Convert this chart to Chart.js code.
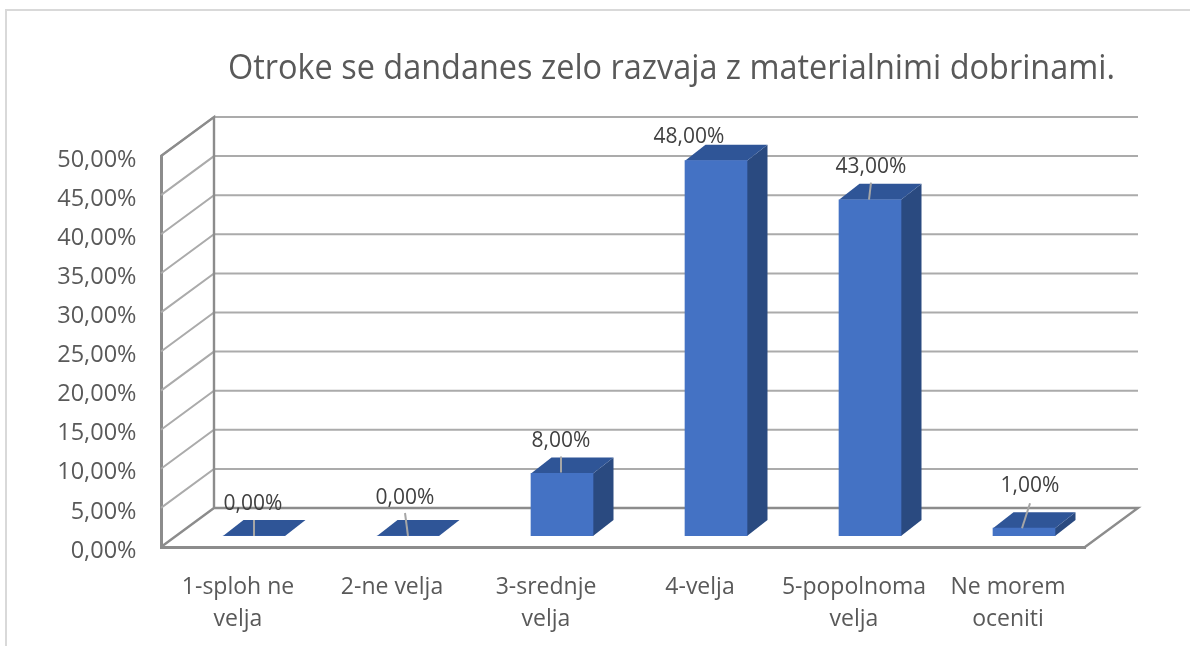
<!DOCTYPE html>
<html>
<head>
<meta charset="utf-8">
<script src="https://cdn.jsdelivr.net/npm/chart.js@4"></script>
<style>html,body{margin:0;padding:0;background:#fff}#w{position:absolute;left:0;top:0;width:1190px;height:646px}</style>
</head>
<body>
<div id="w"><canvas id="c" width="1190" height="646"></canvas></div>
<script>
const chartTitle = 'Otroke se dandanes zelo razvaja z materialnimi dobrinami.';
const categories = [['1-sploh ne','velja'],['2-ne velja'],['3-srednje','velja'],['4-velja'],['5-popolnoma','velja'],['Ne morem','oceniti']];
const percentValues = [0, 0, 8, 48, 43, 1];
const yTickStep = 5;
const yTickMax = 50;

// styling / layout of the pseudo-3D rendering
const FONT = '"Open Sans", "Noto Sans", sans-serif';
const DEPTH = {dx: 53, dy: -39};
const BAR_SHIFT = {dx: 16, dy: -11};
const BAR_DEPTH = {dx: 20.5, dy: -16};
const labelPlace = [[-1,-32,0,-16,0,0],[-3,-38,-3,-23,0,0],[-1,-32,-1,-17,-1,-1],[-27,-24,null,null,0,0],[1,-33,1,-17,-1,0],[6,-42,6,-25,-2,0]];
const fmt = v => v.toFixed(2).replace('.', ',') + '%';

const look3d = {
  id: 'look3d',
  beforeDraw(chart) {
    const c = chart.ctx;
    c.save();
    c.strokeStyle = '#d9d9d9'; c.lineWidth = 2;
    c.beginPath(); c.moveTo(6, 646); c.lineTo(6, 10); c.lineTo(1190, 10); c.stroke();
    c.fillStyle = '#595959'; c.font = '34px ' + FONT;
    c.textAlign = 'left'; c.textBaseline = 'middle';
    c.fillText(chartTitle, 228, 69, 887);
    c.restore();
  },
  beforeDatasetsDraw(chart) {
    const c = chart.ctx, y = chart.scales.y, a = chart.chartArea;
    c.save();
    // gridlines on side and back walls
    c.strokeStyle = '#ababab'; c.lineWidth = 2;
    for (let v = yTickStep; v <= yTickMax; v += yTickStep) {
      const py = y.getPixelForValue(v);
      c.beginPath(); c.moveTo(a.left, py); c.lineTo(a.left + DEPTH.dx, py + DEPTH.dy);
      c.lineTo(a.right + DEPTH.dx, py + DEPTH.dy); c.stroke();
    }
    // wall frame and floor
    const y0 = y.getPixelForValue(0), y1 = y.getPixelForValue(yTickMax);
    c.strokeStyle = '#8c8c8c'; c.lineWidth = 2.4;
    c.beginPath(); c.moveTo(a.left, y1); c.lineTo(a.left + DEPTH.dx, y1 + DEPTH.dy);
    c.lineTo(a.left + DEPTH.dx, y0 + DEPTH.dy); c.moveTo(a.left, y0); c.lineTo(a.left + DEPTH.dx, y0 + DEPTH.dy);
    c.lineTo(a.right + DEPTH.dx, y0 + DEPTH.dy); c.lineTo(a.right, y0); c.stroke();
    // bar tops and sides
    chart.getDatasetMeta(0).data.forEach(b => {
      const l = b.x - b.width / 2 + BAR_SHIFT.dx, r = b.x + b.width / 2 + BAR_SHIFT.dx;
      const t = b.y + BAR_SHIFT.dy, bt = b.base + BAR_SHIFT.dy;
      const dx = BAR_DEPTH.dx, dy = BAR_DEPTH.dy;
      c.fillStyle = '#2a4a80';
      c.beginPath(); c.moveTo(r, t); c.lineTo(r + dx, t + dy); c.lineTo(r + dx, bt + dy); c.lineTo(r, bt); c.closePath(); c.fill();
      c.fillStyle = '#2f5597';
      c.beginPath(); c.moveTo(l, t); c.lineTo(l + dx, t + dy); c.lineTo(r + dx, t + dy); c.lineTo(r, t); c.closePath(); c.fill();
    });
    c.restore();
    c.save();
    c.translate(BAR_SHIFT.dx, BAR_SHIFT.dy);
  },
  afterDatasetsDraw(chart) {
    const c = chart.ctx;
    c.restore();
    c.save();
    chart.getDatasetMeta(0).data.forEach((b, i) => {
      const cx = b.x + BAR_SHIFT.dx, top = b.y + BAR_SHIFT.dy;
      const [lx, ly, sx, sy, ex, ey] = labelPlace[i];
      if (sx !== null) {
        c.strokeStyle = '#a6a6a6'; c.lineWidth = 2;
        c.beginPath(); c.moveTo(cx + sx, top + sy); c.lineTo(cx + ex, top + ey); c.stroke();
      }
      c.fillStyle = '#404040'; c.font = '21px ' + FONT;
      c.textAlign = 'center'; c.textBaseline = 'middle';
      c.fillText(fmt(percentValues[i]), cx + lx, top + ly);
    });
    c.restore();
  }
};

new Chart(document.getElementById('c'), {
  type: 'bar',
  data: { labels: categories, datasets: [{ data: percentValues, backgroundColor: '#4472c4', barThickness: 62, borderWidth: 0 }] },
  plugins: [look3d],
  options: {
    responsive: false, animation: false,
    layout: { padding: { left: 0, right: 105, top: 156, bottom: 0 } },
    plugins: { legend: { display: false }, title: { display: false }, tooltip: { enabled: false } },
    scales: {
      y: {
        min: 0, max: yTickMax,
        afterFit(s) { s.width = 161; },
        ticks: { stepSize: yTickStep, callback: v => ['', fmt(v)], padding: 24.5, color: '#595959', font: { family: FONT, size: 23.5, lineHeight: 8 / 23.5 } },
        grid: { display: false, drawTicks: false },
        border: { display: true, color: '#8c8c8c', width: 3 }
      },
      x: {
        afterFit(s) { s.height = 99; },
        ticks: { autoSkip: false, maxRotation: 0, minRotation: 0, padding: 24, color: '#595959', font: { family: FONT, size: 23, lineHeight: 32/23 } },
        grid: { display: false, drawTicks: false },
        border: { display: true, color: '#8c8c8c', width: 3 }
      }
    }
  }
});
</script>
</body>
</html>
